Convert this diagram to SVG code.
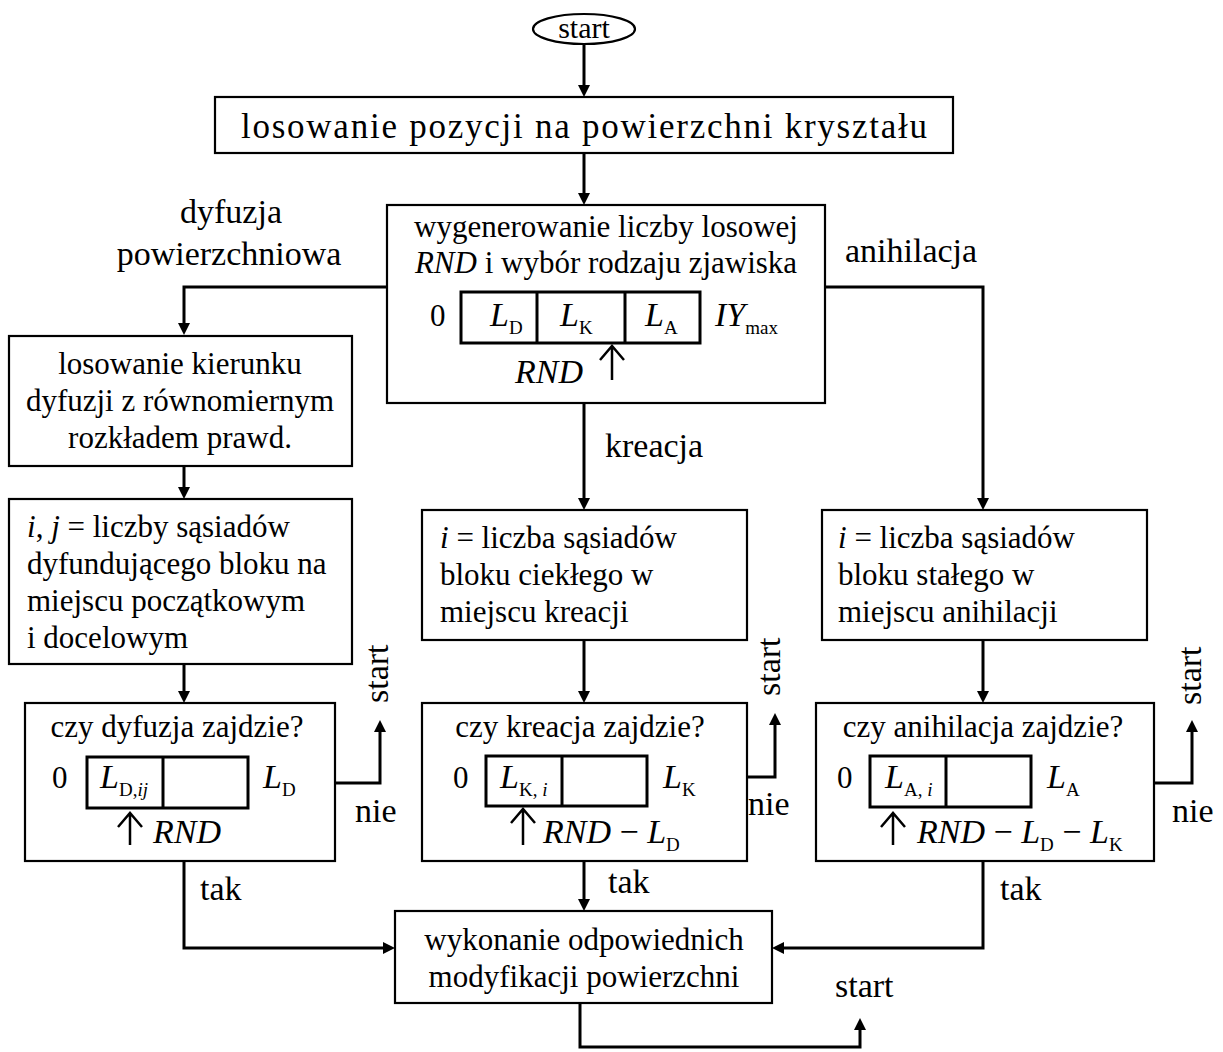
<svg xmlns="http://www.w3.org/2000/svg" width="1223" height="1052" viewBox="0 0 1223 1052">
<defs>
<marker id="ah" viewBox="0 0 12 12" refX="8" refY="6" markerWidth="12" markerHeight="12" markerUnits="userSpaceOnUse" orient="auto"><path d="M0,0 L12,6 L0,12 z" fill="#000"/></marker>
<style>
text{font-family:"Liberation Serif","Times New Roman",serif;fill:#000}
.t{font-size:31px}
.c{text-anchor:middle}
.lb{font-size:34px}
.m{font-size:34px;font-style:italic}
.sub{font-size:19px;font-style:normal}
.box{fill:#fff;stroke:#000;stroke-width:2.2}
.bar{fill:none;stroke:#000;stroke-width:3}
.conn{fill:none;stroke:#000;stroke-width:3;marker-end:url(#ah)}
.up{fill:none;stroke:#000;stroke-width:2.5}
</style>
</defs>
<rect width="1223" height="1052" fill="#fff"/>

<g id="connectors">
<path class="conn" d="M584,44 V93"/>
<path class="conn" d="M584,153 V201"/>
<path class="conn" d="M387,287 H184 V331"/>
<path class="conn" d="M825,287 H983 V506"/>
<path class="conn" d="M584,403 V506"/>
<path class="conn" d="M184,466 V495"/>
<path class="conn" d="M584,640 V699"/>
<path class="conn" d="M983,640 V699"/>
<path class="conn" d="M184,664 V699"/>
<path class="conn" d="M335,783 H380 V724"/>
<path class="conn" d="M747,777 H775 V717"/>
<path class="conn" d="M1154,783 H1192 V724"/>
<path class="conn" d="M184,861 V948 H391"/>
<path class="conn" d="M584,861 V907"/>
<path class="conn" d="M983,861 V948 H776"/>
<path class="conn" d="M580,1003 V1047 H860 V1022"/>
</g>

<g id="labels">
<text class="lb c" x="231" y="223">dyfuzja</text>
<text class="lb c" x="229" y="265">powierzchniowa</text>
<text class="lb" x="845" y="262">anihilacja</text>
<text class="lb" x="605" y="457">kreacja</text>
<text class="lb" x="355" y="822">nie</text>
<text class="lb" x="748" y="815">nie</text>
<text class="lb" x="1172" y="822">nie</text>
<text class="lb" transform="translate(388,703) rotate(-90)">start</text>
<text class="lb" transform="translate(780,696) rotate(-90)">start</text>
<text class="lb" transform="translate(1201,705) rotate(-90)">start</text>
<text class="lb" x="200" y="900">tak</text>
<text class="lb" x="608" y="893">tak</text>
<text class="lb" x="1000" y="900">tak</text>
<text class="lb" x="835" y="997">start</text>
</g>

<g id="start">
<ellipse cx="584" cy="29" rx="51" ry="15" fill="#fff" stroke="#000" stroke-width="2.2"/>
<text class="t c" x="584" y="38" style="font-size:30px">start</text>
</g>

<g id="losowanie">
<rect class="box" x="215" y="97" width="738" height="56"/>
<text class="t" x="241" y="138" style="font-size:35px" textLength="686" lengthAdjust="spacing">losowanie pozycji na powierzchni kryształu</text>
</g>

<g id="wybor">
<rect class="box" x="387" y="205" width="438" height="198"/>
<text class="t c" x="606" y="237">wygenerowanie liczby losowej</text>
<text class="t c" x="606" y="273"><tspan font-style="italic">RND</tspan> i wybór rodzaju zjawiska</text>
<rect class="bar" x="461" y="292" width="239" height="51"/>
<path class="bar" d="M537,292 V343 M625,292 V343"/>
<text class="t" x="430" y="326">0</text>
<text class="m" x="490" y="326">L<tspan class="sub" dy="8">D</tspan></text>
<text class="m" x="560" y="326">L<tspan class="sub" dy="8">K</tspan></text>
<text class="m" x="645" y="326">L<tspan class="sub" dy="8">A</tspan></text>
<text class="m" x="715" y="326">IY<tspan class="sub" dy="8">max</tspan></text>
<text class="m" x="515" y="383">RND</text>
<path class="up" d="M612,380 V346 M600,360 L612,346 L624,360"/>
</g>

<g id="kierunek">
<rect class="box" x="9" y="336" width="343" height="130"/>
<text class="t c" x="180" y="374">losowanie kierunku</text>
<text class="t c" x="180" y="411">dyfuzji z równomiernym</text>
<text class="t c" x="180" y="448">rozkładem prawd.</text>
</g>

<g id="sasiedzi-dyf">
<rect class="box" x="9" y="499" width="343" height="165"/>
<text class="t" x="27" y="537"><tspan font-style="italic">i</tspan>, <tspan font-style="italic">j</tspan> = liczby sąsiadów</text>
<text class="t" x="27" y="574">dyfundującego bloku na</text>
<text class="t" x="27" y="611">miejscu początkowym</text>
<text class="t" x="27" y="648">i docelowym</text>
</g>

<g id="sasiedzi-kre">
<rect class="box" x="422" y="510" width="325" height="130"/>
<text class="t" x="440" y="548"><tspan font-style="italic">i</tspan> = liczba sąsiadów</text>
<text class="t" x="440" y="585">bloku ciekłego w</text>
<text class="t" x="440" y="622">miejscu kreacji</text>
</g>

<g id="sasiedzi-ani">
<rect class="box" x="822" y="510" width="325" height="130"/>
<text class="t" x="838" y="548"><tspan font-style="italic">i</tspan> = liczba sąsiadów</text>
<text class="t" x="838" y="585">bloku stałego w</text>
<text class="t" x="838" y="622">miejscu anihilacji</text>
</g>

<g id="czy-dyfuzja">
<rect class="box" x="25" y="703" width="310" height="158"/>
<text class="t c" x="177" y="737">czy dyfuzja zajdzie?</text>
<rect class="bar" x="87" y="757" width="161" height="51"/>
<path class="bar" d="M163,757 V808"/>
<text class="t" x="52" y="788">0</text>
<text class="m" x="100" y="788">L<tspan class="sub" dy="8">D,<tspan font-style="italic">ij</tspan></tspan></text>
<text class="m" x="263" y="788">L<tspan class="sub" dy="8">D</tspan></text>
<path class="up" d="M130,845 V813 M118,827 L130,813 L142,827"/>
<text class="m" x="153" y="843">RND</text>
</g>

<g id="czy-kreacja">
<rect class="box" x="422" y="703" width="325" height="158"/>
<text class="t c" x="580" y="737">czy kreacja zajdzie?</text>
<rect class="bar" x="486" y="756" width="161" height="50"/>
<path class="bar" d="M562,756 V806"/>
<text class="t" x="453" y="788">0</text>
<text class="m" x="500" y="788">L<tspan class="sub" dy="8">K, <tspan font-style="italic">i</tspan></tspan></text>
<text class="m" x="663" y="788">L<tspan class="sub" dy="8">K</tspan></text>
<path class="up" d="M523,845 V809 M511,823 L523,809 L535,823"/>
<text class="m" x="543" y="843">RND <tspan font-style="normal">−</tspan> L<tspan class="sub" dy="8">D</tspan></text>
</g>

<g id="czy-anihilacja">
<rect class="box" x="816" y="703" width="338" height="158"/>
<text class="t c" x="983" y="737">czy anihilacja zajdzie?</text>
<rect class="bar" x="870" y="756" width="161" height="51"/>
<path class="bar" d="M946,756 V807"/>
<text class="t" x="837" y="788">0</text>
<text class="m" x="885" y="788">L<tspan class="sub" dy="8">A, <tspan font-style="italic">i</tspan></tspan></text>
<text class="m" x="1047" y="788">L<tspan class="sub" dy="8">A</tspan></text>
<path class="up" d="M893,845 V813 M881,827 L893,813 L905,827"/>
<text class="m" x="917" y="843">RND <tspan font-style="normal">−</tspan> L<tspan class="sub" dy="8">D</tspan><tspan dy="-8"> </tspan><tspan font-style="normal">−</tspan> L<tspan class="sub" dy="8">K</tspan></text>
</g>

<g id="wykonanie">
<rect class="box" x="395" y="911" width="377" height="92"/>
<text class="t c" x="584" y="950">wykonanie odpowiednich</text>
<text class="t c" x="584" y="987">modyfikacji powierzchni</text>
</g>
</svg>
